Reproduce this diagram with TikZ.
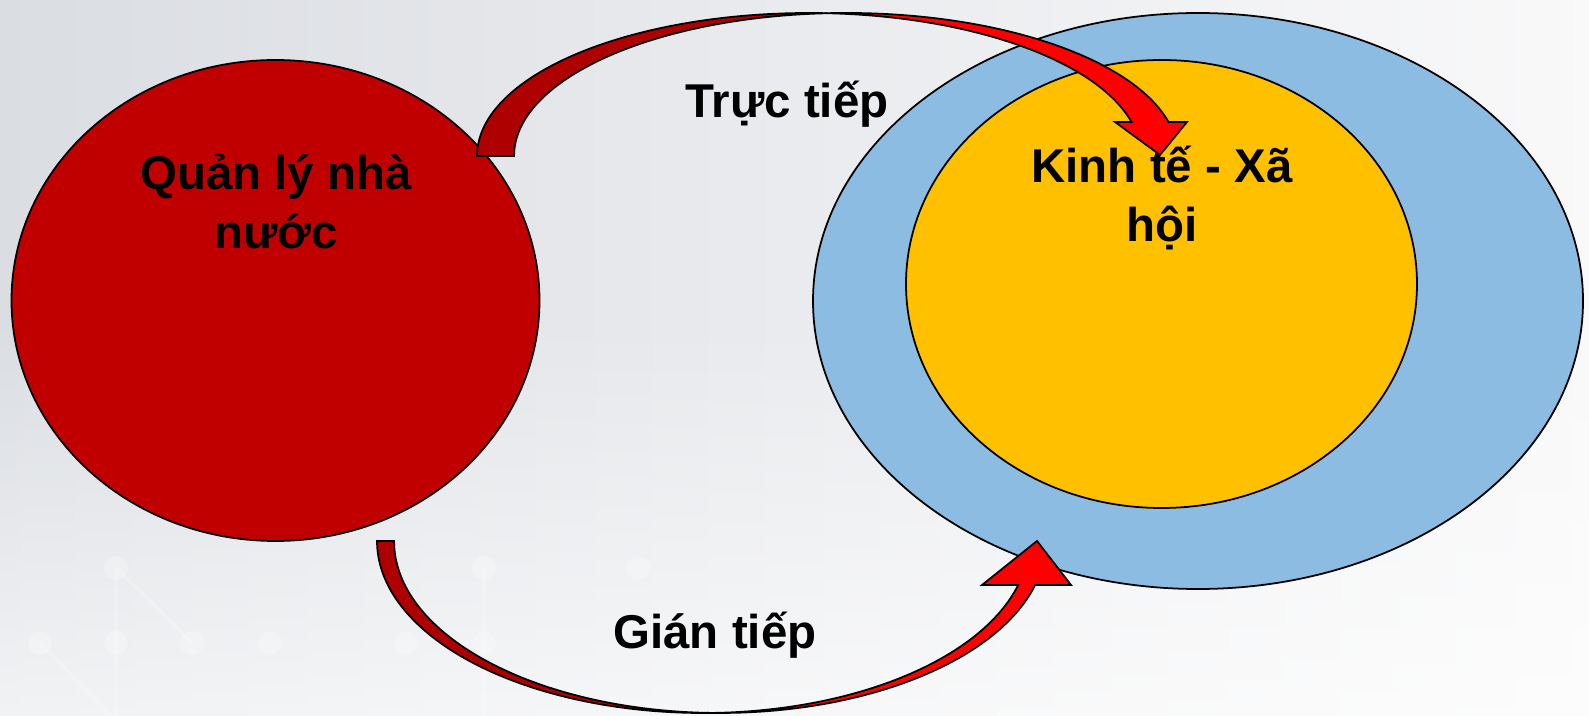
\documentclass[tikz,border=0pt]{standalone}
\usepackage{fontspec}
\setmainfont{Liberation Sans}
\usetikzlibrary{shapes.geometric,positioning,fadings}

\definecolor{qlred}{HTML}{C00000}
\definecolor{backred}{HTML}{AE0000}
\definecolor{frontred}{HTML}{FF0000}
\definecolor{outblue}{HTML}{8DBCE2}
\definecolor{ingold}{HTML}{FFC000}
\definecolor{bgleft}{HTML}{DADDE2}
\definecolor{bgmid}{HTML}{EFF0F2}
\definecolor{bgright}{HTML}{F9F9FA}

\tikzset{
  circ/.style={draw, ellipse, line width=0.5pt, inner sep=0pt, outer sep=0pt},
  lbl/.style={font=\fontsize{13.5}{17.07}\selectfont\bfseries, align=center, inner sep=0pt},
  band/.style={draw, line width=0.5pt, line join=miter},
  netdot/.style={fill=white, opacity=0.25}
}

\begin{document}
\begin{tikzpicture}[x=0.1mm, y=0.1mm]
\useasboundingbox (0,0) rectangle (1589,715);
% background
\shade[left color=bgleft, middle color=bgmid, right color=bgright] (-10,-10) rectangle (1599,725);
\fill[white, path fading=north, opacity=0.7] (-10,-40) rectangle (1599,400);
\draw[white, opacity=0.2, line width=1pt] (116,147) -- (116,0) (116,147) -- (192,72) (40,72) -- (110,0) (484,147) -- (484,0);
\foreach \p in {(116,147),(40,72),(116,72),(192,72),(270,72),(484,147),(406,72),(484,72),(638,147)}
  \fill[netdot] \p circle (1.2mm);

% circles
\node[circ, fill=qlred, minimum width=52.8mm, minimum height=48.1mm] (nhanuoc) at (275.5,414.5) {};
\node[circ, fill=outblue, minimum width=77mm, minimum height=57.6mm] (xahoi) at (1198,414) {};
\node[circ, fill=ingold, minimum width=51.1mm, minimum height=44.8mm] (kinhte) at (1161.5,431) {};

\node[lbl, anchor=base] (lblql) at (276,466) {Quản lý nhà\\nước};
\node[lbl, anchor=base] (lblkt) at (1162,473) {Kinh tế - Xã\\hội};

% arrow ends
\coordinate (tailtop) at (477,559);
\coordinate (midtop) at (827.5,701.8);
\coordinate (tailbot) at (377,174);
\coordinate (midbot) at (711.5,2.1);

% direct arrow
\filldraw[band, fill=backred] (tailtop) arc[start angle=180, end angle=86.8, x radius=33.2mm, y radius=14.3mm]
  arc[start angle=93.2, end angle=180, x radius=33.2mm, y radius=14.3mm] -- cycle;
\filldraw[band, fill=frontred] (midtop) arc[start angle=93.2, end angle=13.76, x radius=33.2mm, y radius=14.3mm]
  -- (1187,593) -- (1160,560) -- (1115,593) -- (1131.5,593)
  arc[start angle=13.76, end angle=86.8, x radius=33.2mm, y radius=14.3mm] -- cycle;

% indirect arrow
\filldraw[band, fill=backred] (tailbot) arc[start angle=180, end angle=271.5, x radius=32.6mm, y radius=17.2mm]
  arc[start angle=268.5, end angle=180, x radius=32.6mm, y radius=17.2mm] -- cycle;
\filldraw[band, fill=frontred] (midbot) arc[start angle=268.5, end angle=345.18, x radius=32.6mm, y radius=17.2mm]
  -- (1071,130) -- (1037,174) -- (982,130) -- (1018.2,130)
  arc[start angle=345.18, end angle=271.5, x radius=32.6mm, y radius=17.2mm] -- cycle;

\node[lbl, anchor=base] (lbltt) at (787,597) {Trực tiếp};
\node[lbl, anchor=base] (lblgt) at (715,67) {Gián tiếp};
\end{tikzpicture}
\end{document}
